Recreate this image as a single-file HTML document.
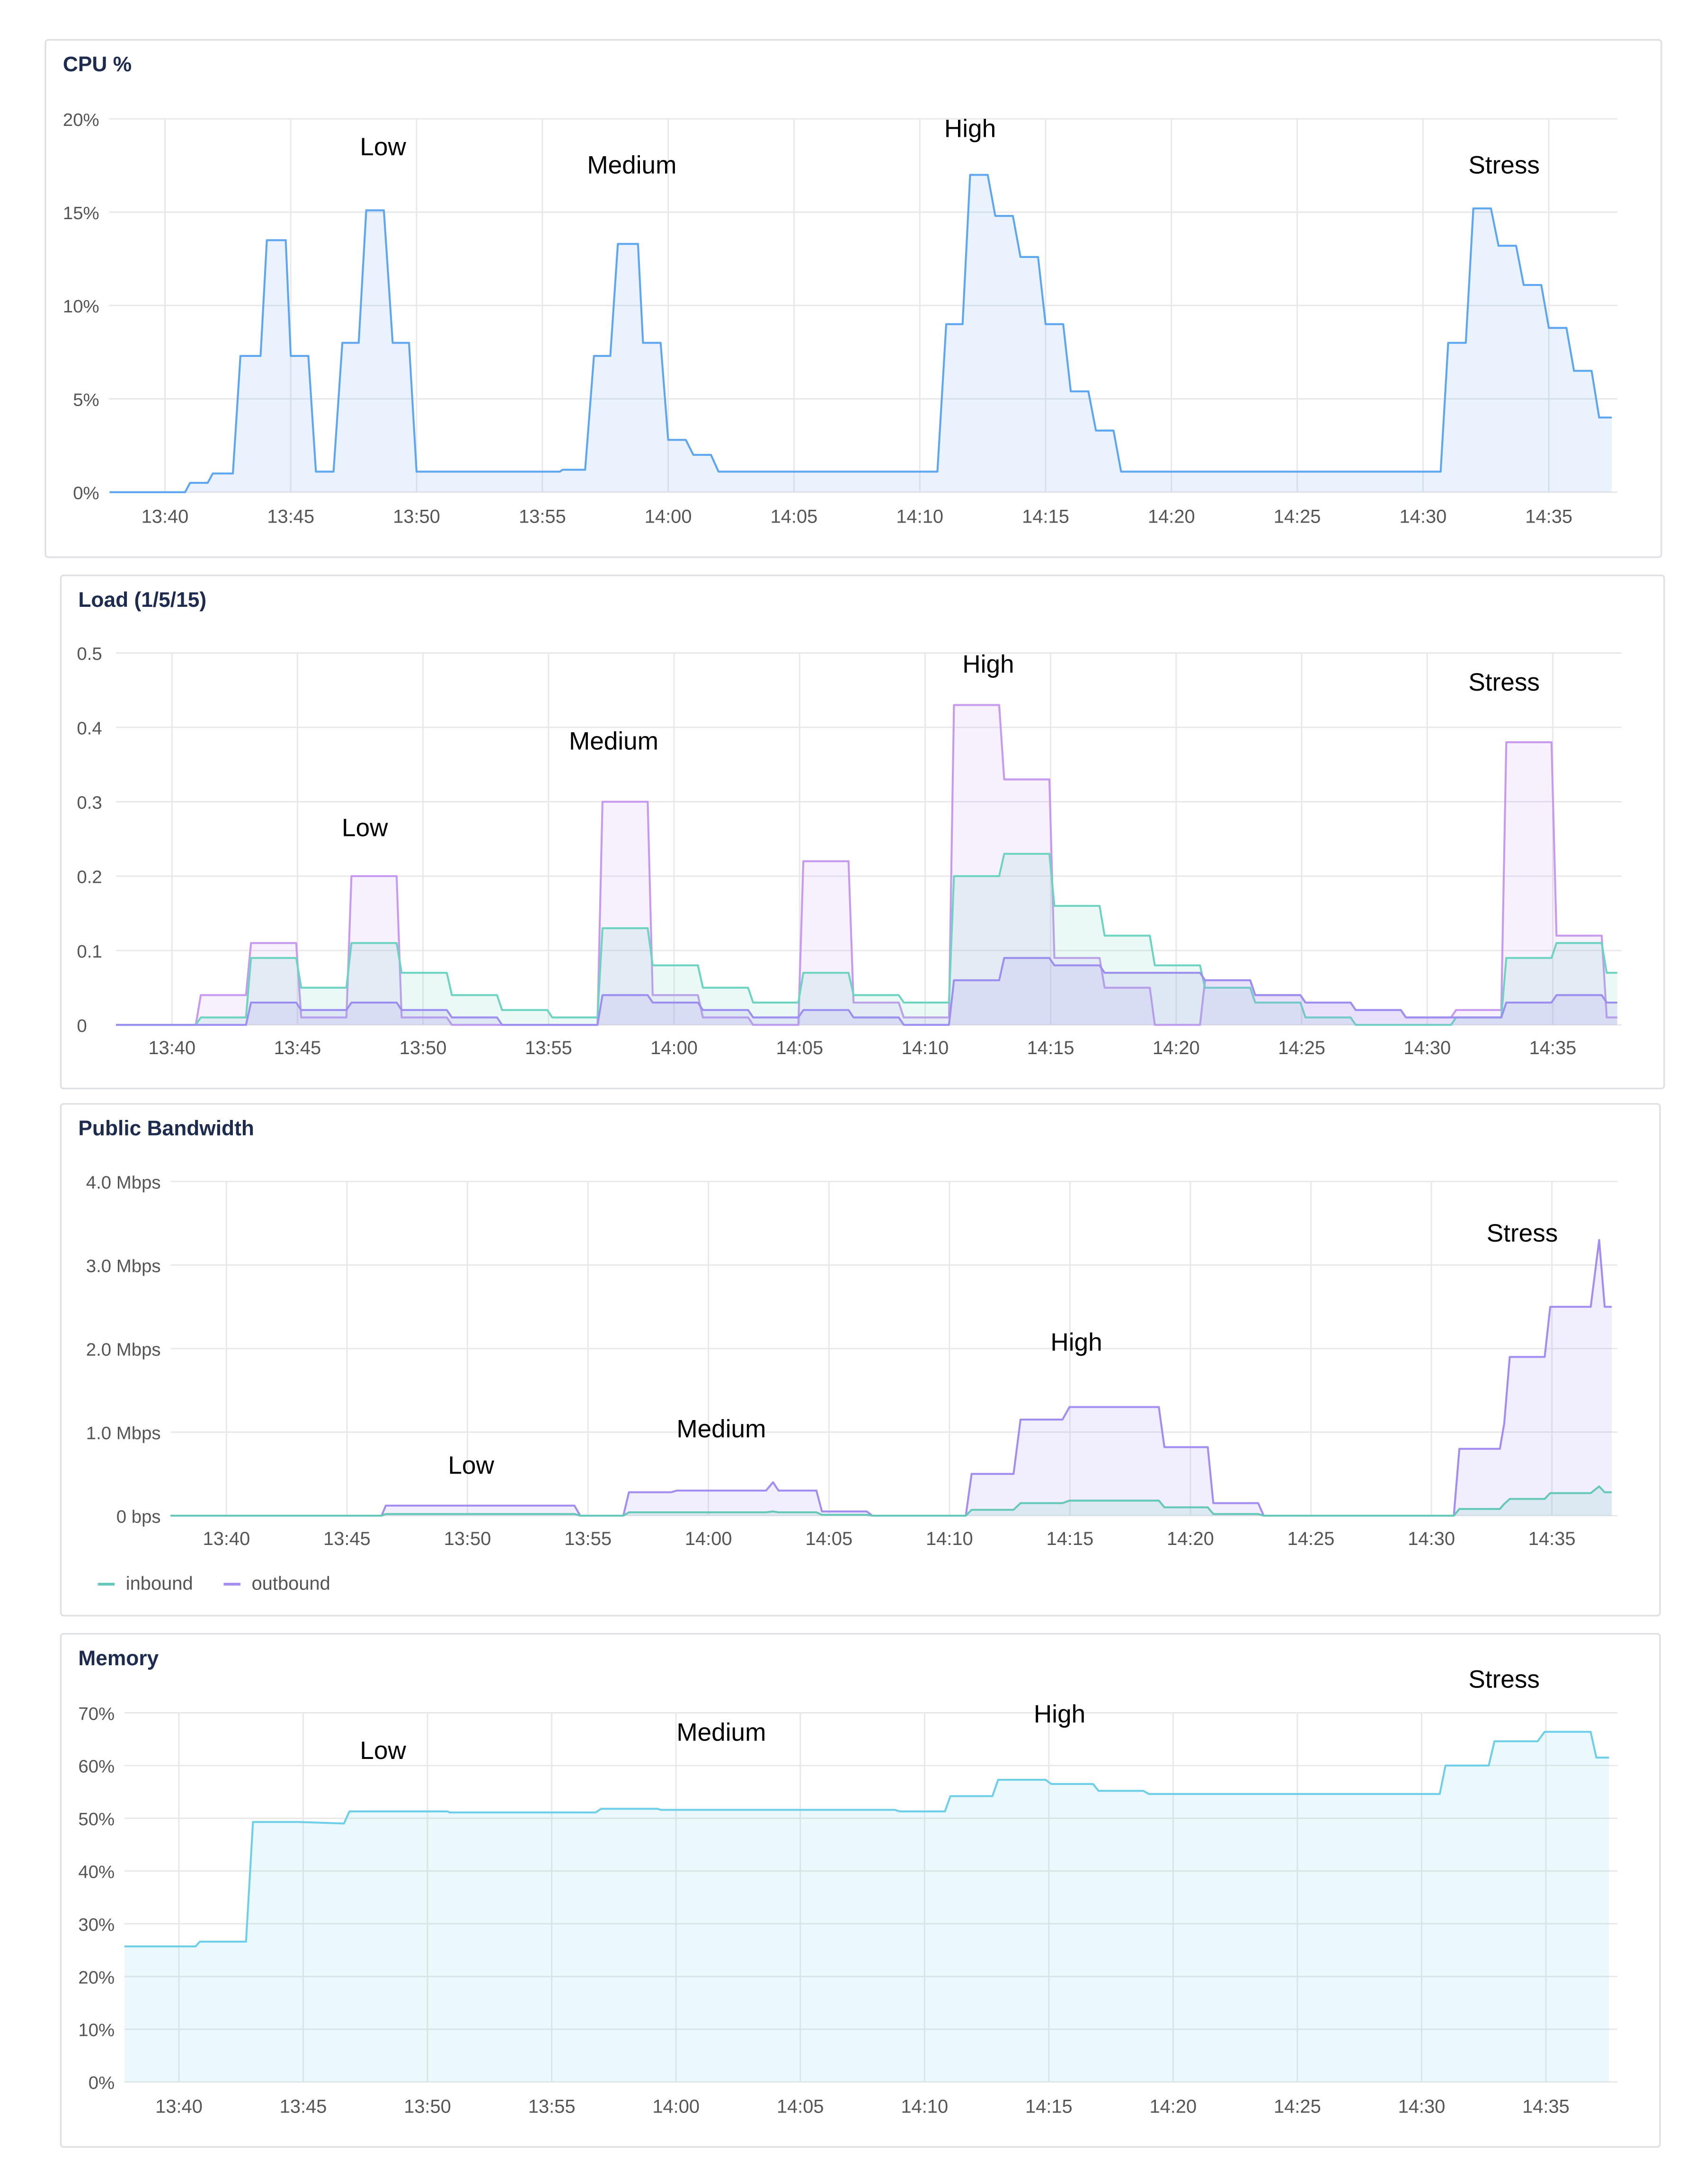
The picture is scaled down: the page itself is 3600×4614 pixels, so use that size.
<!DOCTYPE html>
<html><head><meta charset="utf-8"><style>
html,body{margin:0;padding:0;background:#fff;width:3600px;height:4614px;overflow:hidden}
svg{display:block;font-family:"Liberation Sans",sans-serif}
</style></head><body>
<svg id="root" width="3600" height="4614" viewBox="0 0 1219 1562" preserveAspectRatio="none" xmlns="http://www.w3.org/2000/svg">
<rect x="0" y="0" width="1219" height="1562" fill="#fff"/>
</svg>
<script>
// ---- data (time in minutes since 13:40) ----
const xTickLabels = ["13:40","13:45","13:50","13:55","14:00","14:05","14:10","14:15","14:20","14:25","14:30","14:35"];
const cpuTicks = ["0%","5%","10%","15%","20%"];
const cpuTickVals = [0,5,10,15,20];
const cpuT = [-2.2,0.8,1,1.7,1.9,2.7,3,3.8,4.05,4.8,5,5.7,6,6.7,7.05,7.7,8,8.7,9.05,9.7,10,15.7,15.8,16.7,17.05,17.7,18,18.8,19,19.7,20,20.7,21,21.7,22,30.7,31.05,31.7,32,32.7,33,33.7,34,34.7,35,35.7,36,36.7,37,37.7,38,50.7,51,51.7,52,52.7,53,53.7,54,54.7,55,55.7,56,56.7,57,57.5];
const cpuV = [0,0,0.5,0.5,1,1,7.3,7.3,13.5,13.5,7.3,7.3,1.1,1.1,8,8,15.1,15.1,8,8,1.1,1.1,1.2,1.2,7.3,7.3,13.3,13.3,8,8,2.8,2.8,2,2,1.1,1.1,9,9,17,17,14.8,14.8,12.6,12.6,9,9,5.4,5.4,3.3,3.3,1.1,1.1,8,8,15.2,15.2,13.2,13.2,11.1,11.1,8.8,8.8,6.5,6.5,4,4];

const loadTicks = ["0","0.1","0.2","0.3","0.4","0.5"];
const loadTickVals = [0,0.1,0.2,0.3,0.4,0.5];
const loadBucketStart = 0.95, loadBucketLen = 2;
const load1 = [0.04,0.11,0.01,0.2,0.01,0,0,0,0.3,0.04,0.01,0,0.22,0.03,0.01,0.43,0.33,0.09,0.05,0,0.06,0.04,0.03,0.02,0.01,0.02,0.38,0.12,0.01];
const load5 = [0.01,0.09,0.05,0.11,0.07,0.04,0.02,0.01,0.13,0.08,0.05,0.03,0.07,0.04,0.03,0.2,0.23,0.16,0.12,0.08,0.05,0.03,0.01,0,0,0.01,0.09,0.11,0.07];
const load15 = [0,0.03,0.02,0.03,0.02,0.01,0,0,0.04,0.03,0.02,0.01,0.02,0.01,0,0.06,0.09,0.08,0.07,0.07,0.06,0.04,0.03,0.02,0.01,0.01,0.03,0.04,0.03];

const bwTicks = ["0 bps","1.0 Mbps","2.0 Mbps","3.0 Mbps","4.0 Mbps"];
const bwTickVals = [0,1,2,3,4];
const bwT = [-2.32,6.44,6.61,14.44,14.68,16.47,16.7,18.45,18.68,22.39,22.68,22.91,24.48,24.71,26.57,26.8,30.68,30.92,32.66,32.95,34.69,34.98,38.69,38.92,40.72,40.95,42.81,43.04,50.93,51.16,52.84,53.02,53.25,54.7,54.93,56.61,56.96,57.19,57.48];
const bwOut = [0,0,0.12,0.12,0,0,0.28,0.28,0.3,0.3,0.4,0.3,0.3,0.05,0.05,0,0,0.5,0.5,1.15,1.15,1.3,1.3,0.82,0.82,0.15,0.15,0,0,0.8,0.8,1.1,1.9,1.9,2.5,2.5,3.3,2.5,2.5];
const bwIn = [0,0,0.02,0.02,0,0,0.04,0.04,0.04,0.04,0.05,0.04,0.04,0.01,0.01,0,0,0.07,0.07,0.15,0.15,0.18,0.18,0.1,0.1,0.02,0.02,0,0,0.08,0.08,0.14,0.2,0.2,0.27,0.27,0.35,0.28,0.28];

const memTicks = ["0%","10%","20%","30%","40%","50%","60%","70%"];
const memTickVals = [0,10,20,30,40,50,60,70];
const memT = [-2.19,0.67,0.84,2.7,2.98,4.78,6.64,6.86,10.8,10.9,16.76,16.99,19.24,19.4,28.8,29,30.82,31.04,32.73,32.96,34.87,35.1,36.78,37,38.8,39.03,50.73,50.96,52.7,52.93,54.67,54.95,56.8,57.03,57.54];
const memV = [25.7,25.7,26.6,26.6,49.3,49.3,49,51.3,51.3,51.1,51.1,51.8,51.8,51.6,51.6,51.3,51.3,54.2,54.2,57.3,57.3,56.5,56.5,55.2,55.2,54.6,54.6,60,60,64.6,64.6,66.4,66.4,61.5,61.5];

// ---- rendering ----
const NS="http://www.w3.org/2000/svg";
const root=document.getElementById('root');
function el(tag,attrs,parent){const e=document.createElementNS(NS,tag);for(const k in attrs)e.setAttribute(k,attrs[k]);(parent||root).appendChild(e);return e;}
function txt(s,attrs,parent){const e=el('text',attrs,parent);e.textContent=s;return e;}

function panel(c){
  const g=el('g',{});
  
  
  const box=el('rect',{x:c.box[0]+0.5,y:c.box[1]+0.5,width:c.box[2],height:c.box[3],fill:'#fff',stroke:'#dfe1e5','stroke-width':1.2,rx:2},g);
  
  
  const t=txt(c.title,{x:c.box[0]+13,y:c.box[1]+23,'font-size':15,'font-weight':'bold',fill:'#1d2b4f'},g);
  
  
  const xs=v=>c.x0+c.xs*v;
  const ys=v=>c.y0-(c.y0-c.y1)*v/c.ymax;
  c.yVals.forEach((v,i)=>{
    const l=el('line',{x1:c.px[0],x2:c.px[1],y1:ys(v),y2:ys(v),stroke:'#e8e8e8','stroke-width':1},g);
    
    
    const lab=txt(c.yLabels[i],{x:c.yLabX,y:ys(v)+5,'font-size':13,fill:'#555','text-anchor':c.yAnchor},g);
    
    
  });
  xTickLabels.forEach((s,i)=>{
    const x=xs(i*5);
    const l=el('line',{x1:x,x2:x,y1:c.y1,y2:c.y0,stroke:'#e8e8e8','stroke-width':1},g);
    
    
    const lab=txt(s,{x:x,y:c.xLabY,'font-size':13.5,fill:'#555','text-anchor':'middle'},g);
    
    
  });
  c.series.forEach(s=>{
    const pts=s.t.map((t,i)=>[xs(t),ys(s.v[i])]);
    const d='M'+pts.map(p=>p[0].toFixed(2)+','+p[1].toFixed(2)).join('L');
    const a=el('path',{d:d+'L'+pts[pts.length-1][0].toFixed(2)+','+c.y0+'L'+pts[0][0].toFixed(2)+','+c.y0+'Z',fill:s.fill,stroke:'none'},g);
    
    
    const p=el('path',{d:d,fill:'none',stroke:s.color,'stroke-width':1.4,'stroke-linejoin':'round'},g);
    
    
  });
  c.notes.forEach(n=>{
    const a=txt(n[0],{x:n[1],y:n[2]+6,'font-size':18,fill:'#000','text-anchor':'middle'},g);
    
    
  });
  return g;
}
function buckets(vals,start,end){
  const t=[start,loadBucketStart],v=[0,0];
  let prev=0;
  vals.forEach((val,k)=>{const s=loadBucketStart+k*loadBucketLen;
    if(k>0){t.push(s);v.push(prev);}
    t.push(s+0.2);v.push(val);prev=val;});
  t.push(end);v.push(prev);
  return {t,v};
}
panel({name:'cpu',title:'CPU %',box:[32,28,1156,370],x0:118,xs:18,y0:352,y1:85,ymax:20,px:[78,1157],
  yVals:cpuTickVals,yLabels:cpuTicks,yLabX:71,yAnchor:'end',xLabY:374,
  series:[{name:'cpu',t:cpuT,v:cpuV,color:'#5ea6f0',fill:'rgba(94,166,240,0.13)'}],
  notes:[['Low',274,105],['Medium',452,118],['High',694,92],['Stress',1076,118]]});
const L1=buckets(load1,-2.23,57.57),L5=buckets(load5,-2.23,57.57),L15=buckets(load15,-2.23,57.57);
panel({name:'load',title:'Load (1/5/15)',box:[43,411,1147,367],x0:123,xs:17.96,y0:733,y1:467,ymax:0.5,px:[83,1160],
  yVals:loadTickVals,yLabels:loadTicks,yLabX:55,yAnchor:'start',xLabY:754,
  series:[{name:'load1',t:L1.t,v:L1.v,color:'#c79af0',fill:'rgba(199,154,240,0.15)'},
          {name:'load5',t:L5.t,v:L5.v,color:'#6fd3c2',fill:'rgba(111,211,194,0.15)'},
          {name:'load15',t:L15.t,v:L15.v,color:'#9c8ff0',fill:'rgba(156,143,240,0.15)'}],
  notes:[['Low',261,592],['Medium',439,530],['High',707,475],['Stress',1076,488]]});
panel({name:'bandwidth',title:'Public Bandwidth',box:[43,789,1144,366],x0:162,xs:17.24,y0:1084,y1:845,ymax:4,px:[122,1157],
  yVals:bwTickVals,yLabels:bwTicks,yLabX:115,yAnchor:'end',xLabY:1105,
  series:[{name:'outbound',t:bwT,v:bwOut,color:'#a48df0',fill:'rgba(164,141,240,0.15)'},
          {name:'inbound',t:bwT,v:bwIn,color:'#66c8b8',fill:'rgba(102,200,184,0.15)'}],
  notes:[['Low',337,1048],['Medium',516,1022],['High',770,960],['Stress',1089,882]]});
panel({name:'memory',title:'Memory',box:[43,1168,1144,367],x0:128,xs:17.78,y0:1489,y1:1225,ymax:70,px:[89,1157],
  yVals:memTickVals,yLabels:memTicks,yLabX:82,yAnchor:'end',xLabY:1511,
  series:[{name:'memory',t:memT,v:memV,color:'#6fcfe8',fill:'rgba(111,207,232,0.13)'}],
  notes:[['Low',274,1252],['Medium',516,1239],['High',758,1226],['Stress',1076,1201]]});
// legend
const lg=el('g',{});


[['inbound','#66c8b8',70],['outbound','#a48df0',160]].forEach(e=>{
  const it=el('g',{},lg);
  
  
  el('line',{x1:e[2],x2:e[2]+12,y1:1133,y2:1133,stroke:e[1],'stroke-width':2},it);
  txt(e[0],{x:e[2]+20,y:1137,'font-size':13.5,fill:'#555'},it);
});
</script>
</body></html>
